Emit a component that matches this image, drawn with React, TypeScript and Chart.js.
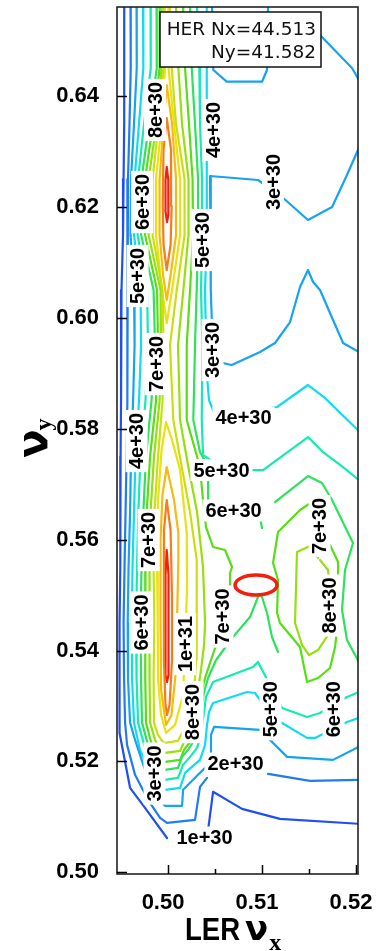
import React, { useEffect, useRef } from 'react';
import { Chart, registerables } from 'chart.js';

Chart.register(...registerables);

// ---------------- data (tune space: x = LER nu_x, y = nu_y) ----------------
const X_MIN = 0.49457;
const X_MAX = 0.52021;
const Y_MIN = 0.4997;
const Y_MAX = 0.65605;
const X_TICKS_MAJOR = [0.5, 0.51, 0.52];
const X_TICKS_MINOR = [0.505, 0.515];
const Y_TICKS = [0.5, 0.52, 0.54, 0.56, 0.58, 0.6, 0.62, 0.64];

// contour levels (x 1e30)
const LEVELS = [1, 2, 3, 4, 5, 6, 7, 8, 9, 10, 11, 12, 13];

// left flank of the ridge: x position of each level at common nu_y values
const LEFT_Y = [0.6561, 0.645, 0.635, 0.625, 0.615, 0.605, 0.595, 0.585, 0.575, 0.565, 0.555, 0.545, 0.535, 0.527];
const LEFT_X1 = [0.49534, 0.49535, 0.49532, 0.49527, 0.49521, 0.49505, 0.495, 0.495, 0.49495, 0.49495, 0.49489, 0.49484, 0.49484, 0.49484];
const LEFT_X2 = [0.49601, 0.49603, 0.4959, 0.49574, 0.49564, 0.49567, 0.49569, 0.49569, 0.49559, 0.49548, 0.49537, 0.49527, 0.49532, 0.49543];
const LEFT_X3 = [0.49665, 0.49667, 0.49638, 0.49606, 0.49601, 0.49638, 0.49644, 0.49628, 0.49606, 0.49596, 0.4958, 0.49571, 0.49574, 0.49596];
const LEFT_X4 = [0.49734, 0.49737, 0.49691, 0.49644, 0.49638, 0.49707, 0.49713, 0.49691, 0.49654, 0.49638, 0.49622, 0.49614, 0.49617, 0.49638];
const LEFT_X5 = [0.49814, 0.49816, 0.49745, 0.49681, 0.49676, 0.49777, 0.49787, 0.4976, 0.49707, 0.49684, 0.4967, 0.4966, 0.49665, 0.49681];
const LEFT_X6 = [0.49878, 0.4988, 0.49798, 0.49718, 0.49713, 0.49846, 0.49862, 0.49824, 0.49766, 0.49737, 0.49718, 0.49707, 0.49713, 0.49723];
const LEFT_X7 = [0.4991, 0.4991, 0.4984, 0.49755, 0.49755, 0.49883, 0.49894, 0.49872, 0.49809, 0.49773, 0.4976, 0.49755, 0.4976, 0.49766];
const LEFT_X8 = [0.49931, 0.49931, 0.49878, 0.49793, 0.49793, 0.4992, 0.49926, 0.4991, 0.49851, 0.49814, 0.49803, 0.49803, 0.49803, 0.49809];
const LEFT_X9 = [0.49952, 0.49952, 0.49899, 0.49835, 0.49835, 0.49941, 0.49952, 0.49941, 0.49894, 0.49856, 0.49846, 0.49854, 0.49846, 0.49851];

// continuation of each left flank below nu_y = 0.527
const TAIL_1 = [[0.49484, 0.52514], [0.49596, 0.51524], [0.49755, 0.51163], [0.49989, 0.50619]];
const TAIL_2 = [[0.49564, 0.52298], [0.49649, 0.51758], [0.49787, 0.51307], [0.49915, 0.50983], [0.49989, 0.50893], [0.50287, 0.50947], [0.5034, 0.51542], [0.50415, 0.51704]];
const TAIL_3 = [[0.49649, 0.52388], [0.49755, 0.51848], [0.49862, 0.51398], [0.49968, 0.51199], [0.50149, 0.51199], [0.5016, 0.51488], [0.50287, 0.51704], [0.50394, 0.51884], [0.50447, 0.51992], [0.50457, 0.52478], [0.5049, 0.52622], [0.50979, 0.52568], [0.51266, 0.52082], [0.51755, 0.52028], [0.5203, 0.52262]];
const TAIL_4 = [[0.49702, 0.52208], [0.49809, 0.51812], [0.49894, 0.51578], [0.49968, 0.51488], [0.50128, 0.51524], [0.50181, 0.51794], [0.50266, 0.5192], [0.5034, 0.52028], [0.50394, 0.52298], [0.50415, 0.52658], [0.50436, 0.52892], [0.50479, 0.53054], [0.5084, 0.53252], [0.50926, 0.53234], [0.51106, 0.52802], [0.51479, 0.52424], [0.51564, 0.52424], [0.51904, 0.52712], [0.5203, 0.52784]];
const TAIL_5 = [[0.49755, 0.52244], [0.49862, 0.51884], [0.49968, 0.51668], [0.50106, 0.51704], [0.5016, 0.51938], [0.50234, 0.52082], [0.50309, 0.52244], [0.50351, 0.52478], [0.50383, 0.52892], [0.50404, 0.53162], [0.50479, 0.53432], [0.50904, 0.53703], [0.50957, 0.53793], [0.51213, 0.52964], [0.51479, 0.52802], [0.51617, 0.52874], [0.51904, 0.53162], [0.5203, 0.53252]];
const TAIL_6 = [[0.49787, 0.52298], [0.49883, 0.51992], [0.49968, 0.51848], [0.50106, 0.51884], [0.50149, 0.52082], [0.50213, 0.52208], [0.50266, 0.5235], [0.50319, 0.52604], [0.50351, 0.52928], [0.50383, 0.53252], [0.50426, 0.53504], [0.50511, 0.53829], [0.50691, 0.54244], [0.50872, 0.54604], [0.50957, 0.54965]];
const TAIL_7 = [[0.49819, 0.5235], [0.49894, 0.52098], [0.49968, 0.51992], [0.50128, 0.52028], [0.5017, 0.52208], [0.50234, 0.5235], [0.50287, 0.52604], [0.50319, 0.52928], [0.50362, 0.53288], [0.50394, 0.53504], [0.50457, 0.53829], [0.50511, 0.54099], [0.50574, 0.54604], [0.5066, 0.55091], [0.5066, 0.55398], [0.50681, 0.55506], [0.50606, 0.55813], [0.50479, 0.55867], [0.50404, 0.56227], [0.50372, 0.56714], [0.5034, 0.57309], [0.50199, 0.58157], [0.50199, 0.5951], [0.50234, 0.60502], [0.50266, 0.61493], [0.50261, 0.62503], [0.50223, 0.63495], [0.50181, 0.64505], [0.5016, 0.6561]];
const TAIL_8 = [[0.49862, 0.52388], [0.49915, 0.52208], [0.49968, 0.52154], [0.50128, 0.5219], [0.5017, 0.5235], [0.50223, 0.52458], [0.50266, 0.52712], [0.50287, 0.52928], [0.50319, 0.53288], [0.50351, 0.53649], [0.50383, 0.54099], [0.50394, 0.54496], [0.50372, 0.55506], [0.50309, 0.56498], [0.50216, 0.57309], [0.50128, 0.58157], [0.50106, 0.5951], [0.50163, 0.60502], [0.50218, 0.61493], [0.50218, 0.62503], [0.50149, 0.63495], [0.5011, 0.64505], [0.50085, 0.6561]];
const TAIL_9 = [[0.49894, 0.52478], [0.49936, 0.5237], [0.49968, 0.52334], [0.50106, 0.5237], [0.50149, 0.52514], [0.50202, 0.52604], [0.50234, 0.52838], [0.50261, 0.53108], [0.50287, 0.53504], [0.50298, 0.53829], [0.50305, 0.5455], [0.50305, 0.55633], [0.50234, 0.56498], [0.50146, 0.57309], [0.50056, 0.58157], [0.50021, 0.5951], [0.50093, 0.60502], [0.50176, 0.61493], [0.50176, 0.62503], [0.50085, 0.63495], [0.50039, 0.64505], [0.50021, 0.6561]];

// other contour pieces
const LINE_1B = [[0.50426, 0.50763], [0.50479, 0.51452], [0.50787, 0.51145], [0.51191, 0.50965], [0.5203, 0.50875]];
const LINE_2B = [[0.51064, 0.51776], [0.51511, 0.5165], [0.5203, 0.51668]];
const VALLEY_3A = [[0.50468, 0.6561], [0.50482, 0.64469], [0.50624, 0.64258], [0.51, 0.64258], [0.51053, 0.64469], [0.51064, 0.6561]];
const VALLEY_3B = [[0.51596, 0.65136], [0.51957, 0.64505], [0.5203, 0.64289]];
const VALLEY_3C = [[0.5203, 0.63062], [0.51894, 0.62539], [0.51745, 0.61998], [0.51489, 0.61764], [0.51213, 0.62179], [0.50957, 0.62485], [0.50447, 0.62557], [0.50452, 0.61584], [0.50457, 0.60502], [0.50473, 0.596], [0.50532, 0.59203], [0.50678, 0.59149], [0.50979, 0.59383], [0.51138, 0.59546], [0.51298, 0.59924], [0.51404, 0.60556], [0.51489, 0.60862], [0.51543, 0.60646], [0.51617, 0.60502], [0.51862, 0.59546], [0.5203, 0.59383]];
const RIGHT_4 = [[0.50412, 0.6561], [0.50412, 0.64505], [0.50412, 0.63495], [0.50412, 0.62503], [0.50412, 0.61493], [0.50394, 0.60502], [0.50404, 0.5951], [0.50415, 0.58933], [0.50436, 0.58518], [0.505, 0.58247], [0.5116, 0.58392], [0.51489, 0.58788], [0.5167, 0.58554], [0.5203, 0.57959]];
const RIGHT_5 = [[0.50309, 0.6561], [0.50333, 0.64505], [0.5034, 0.63495], [0.50362, 0.62503], [0.50362, 0.61493], [0.50351, 0.60502], [0.50365, 0.5951], [0.50359, 0.58157], [0.50372, 0.57526], [0.50606, 0.57255], [0.51011, 0.57255], [0.51489, 0.5785], [0.51649, 0.5758], [0.51862, 0.57309], [0.5203, 0.57075]];
const RIGHT_6 = [[0.50234, 0.6561], [0.50252, 0.64505], [0.50287, 0.63495], [0.50319, 0.62503], [0.50319, 0.61493], [0.50305, 0.60502], [0.50287, 0.5951], [0.50269, 0.58157], [0.5034, 0.5758], [0.50429, 0.57309], [0.50426, 0.56714], [0.50713, 0.56498], [0.50979, 0.5639], [0.51, 0.56209]];
const HILL_6A = [[0.51138, 0.56678], [0.51489, 0.57147], [0.51638, 0.5702], [0.51745, 0.56714], [0.51968, 0.55939], [0.51883, 0.55452], [0.51851, 0.54731], [0.51904, 0.54189], [0.5203, 0.53793]];
const HILL_6B = [[0.51, 0.54965], [0.51053, 0.54676], [0.51106, 0.54244], [0.5117, 0.53973]];
const HILL_7 = [[0.51532, 0.56678], [0.51404, 0.56534], [0.5117, 0.56137], [0.51117, 0.55579], [0.5117, 0.55272], [0.5116, 0.54676], [0.51191, 0.54496], [0.51404, 0.54063], [0.51479, 0.53432], [0.51596, 0.53504], [0.51723, 0.53685], [0.51777, 0.54063], [0.51809, 0.5455], [0.51809, 0.55597], [0.51723, 0.55903], [0.5168, 0.55993]];
const HILL_8 = [[0.51596, 0.55669], [0.51511, 0.55885], [0.51372, 0.55777], [0.51351, 0.54496], [0.51426, 0.54099], [0.515, 0.53919], [0.51596, 0.54009], [0.51702, 0.5428], [0.51734, 0.54911], [0.51702, 0.55452], [0.51617, 0.55633]];
// upper peak
const UP_10 = [[0.49968, 0.6561], [0.49968, 0.64505], [0.49931, 0.63495], [0.49872, 0.62503], [0.49872, 0.61493], [0.49936, 0.60502], [0.49986, 0.59906], [0.50043, 0.60502], [0.50128, 0.61493], [0.50128, 0.62503], [0.50064, 0.63495], [0.50005, 0.64505], [0.50005, 0.6561]];
const UP_11 = [[0.49986, 0.64198], [0.49952, 0.63495], [0.4991, 0.62503], [0.4991, 0.61493], [0.49947, 0.60772], [0.49986, 0.60321], [0.50027, 0.60772], [0.50085, 0.61493], [0.50085, 0.62503], [0.50043, 0.63495], [0.49986, 0.64198]];
const UP_12 = [[0.49986, 0.63603], [0.49952, 0.63026], [0.49944, 0.62016], [0.49952, 0.61313], [0.49986, 0.60862], [0.50027, 0.61313], [0.50039, 0.62016], [0.50032, 0.63026], [0.49986, 0.63603]];
const UP_13 = [[0.49986, 0.6272], [0.50003, 0.62485], [0.50003, 0.61854], [0.49989, 0.61728], [0.49971, 0.61944], [0.49973, 0.62485], [0.49986, 0.6272]];
// lower peak
const LOW_10 = [[0.49979, 0.58121], [0.49931, 0.57616], [0.49894, 0.56714], [0.49883, 0.55633], [0.4989, 0.5455], [0.49894, 0.53468], [0.49926, 0.52838], [0.49979, 0.52514], [0.50074, 0.52658], [0.5016, 0.53198], [0.50181, 0.54153], [0.50202, 0.55091], [0.50199, 0.56119], [0.50128, 0.57255], [0.50043, 0.57796], [0.49979, 0.58121]];
const LOW_11 = [[0.49986, 0.57309], [0.49941, 0.56805], [0.4992, 0.55993], [0.4992, 0.5455], [0.49926, 0.53288], [0.49979, 0.52658], [0.50037, 0.52838], [0.50085, 0.53649], [0.50096, 0.5455], [0.5011, 0.55633], [0.5011, 0.56119], [0.50064, 0.56714], [0.49986, 0.57309]];
const LOW_12 = [[0.49986, 0.56714], [0.49957, 0.56173], [0.49955, 0.54911], [0.49957, 0.53829], [0.49973, 0.53018], [0.49989, 0.52838], [0.50016, 0.53018], [0.50043, 0.53829], [0.50043, 0.54911], [0.50027, 0.56173], [0.49986, 0.56714]];
const LOW_13 = [[0.49986, 0.55813], [0.50005, 0.55362], [0.50005, 0.53559], [0.49989, 0.53432], [0.49973, 0.53559], [0.49973, 0.55362], [0.49986, 0.55813]];

// contour labels: text, nu_x, nu_y, vertical?
const LABELS: [string, number, number, boolean][] = [
  ['8e+30', 0.49862, 0.63748, true],
  ['4e+30', 0.50484, 0.63387, true],
  ['6e+30', 0.49723, 0.62088, true],
  ['3e+30', 0.51117, 0.62449, true],
  ['5e+30', 0.50367, 0.61403, true],
  ['5e+30', 0.49676, 0.60754, true],
  ['7e+30', 0.49872, 0.59167, true],
  ['3e+30', 0.50473, 0.59419, true],
  ['4e+30', 0.49665, 0.57778, true],
  ['7e+30', 0.49793, 0.55993, true],
  ['7e+30', 0.51612, 0.56245, true],
  ['6e+30', 0.49718, 0.54505, true],
  ['1e+31', 0.50181, 0.54117, true],
  ['7e+30', 0.5058, 0.54613, true],
  ['8e+30', 0.51718, 0.54812, true],
  ['8e+30', 0.50261, 0.5289, true],
  ['5e+30', 0.5109, 0.52941, true],
  ['6e+30', 0.51761, 0.52941, true],
  ['3e+30', 0.49856, 0.51782, true],
  ['4e+30', 0.50803, 0.58202, false],
  ['5e+30', 0.50569, 0.57255, false],
  ['6e+30', 0.50697, 0.56525, false],
  ['2e+30', 0.50718, 0.51962, false],
  ['1e+30', 0.50388, 0.50628, false],
];

// working point marker
const WORKING_POINT = [0.50936, 0.55181];
const WORKING_RADII = [0.00223, 0.0018];

const LEGEND_LINES = ['HER Nx=44.513', 'Ny=41.582'];

// ---------------- style ----------------
const PALETTE = ['#1f4ff0', '#1f7cf2', '#17a3f2', '#0fdcf2', '#14eab2', '#2ee25e', '#58de16', '#96e010', '#c8e010', '#ece010', '#f6ba10', '#f67c1a', '#f22010'];

function flank(xs: number[], tail: number[][]): number[][] {
  return xs.map((x, i) => [x, LEFT_Y[i]] as number[]).concat(tail);
}

const LINES: [number, number[][]][] = [
  [1, flank(LEFT_X1, TAIL_1)],
  [1, LINE_1B],
  [2, flank(LEFT_X2, TAIL_2)],
  [2, LINE_2B],
  [3, flank(LEFT_X3, TAIL_3)],
  [3, VALLEY_3A],
  [3, VALLEY_3B],
  [3, VALLEY_3C],
  [4, flank(LEFT_X4, TAIL_4)],
  [4, RIGHT_4],
  [5, flank(LEFT_X5, TAIL_5)],
  [5, RIGHT_5],
  [6, flank(LEFT_X6, TAIL_6)],
  [6, RIGHT_6],
  [6, HILL_6A],
  [6, HILL_6B],
  [7, flank(LEFT_X7, TAIL_7)],
  [7, HILL_7],
  [8, flank(LEFT_X8, TAIL_8)],
  [8, HILL_8],
  [9, flank(LEFT_X9, TAIL_9)],
  [10, UP_10],
  [11, UP_11],
  [12, UP_12],
  [13, UP_13],
  [10, LOW_10],
  [11, LOW_11],
  [12, LOW_12],
  [13, LOW_13],
];

const overlayPlugin = {
  id: 'overlay',
  afterDatasetsDraw(chart: any) {
    const { ctx, chartArea: a, scales } = chart;
    const xs = scales.x;
    const ys = scales.y;
    ctx.save();

    // contour labels with white boxes
    ctx.font = 'bold 20px "Liberation Sans", Arial, sans-serif';
    ctx.textAlign = 'center';
    ctx.textBaseline = 'middle';
    for (const [t, lx, ly, v] of LABELS) {
      const px = xs.getPixelForValue(lx);
      const py = ys.getPixelForValue(ly);
      ctx.save();
      ctx.translate(px, py);
      if (v) ctx.rotate(-Math.PI / 2);
      const w = ctx.measureText(t).width + 6;
      ctx.fillStyle = '#ffffff';
      ctx.fillRect(-w / 2, -11, w, 22);
      ctx.fillStyle = '#000000';
      ctx.fillText(t, 0, 1);
      ctx.restore();
    }

    // working point ellipse
    const cx = xs.getPixelForValue(WORKING_POINT[0]);
    const cy = ys.getPixelForValue(WORKING_POINT[1]);
    const rx = Math.abs(xs.getPixelForValue(WORKING_POINT[0] + WORKING_RADII[0]) - cx);
    const ry = Math.abs(ys.getPixelForValue(WORKING_POINT[1] + WORKING_RADII[1]) - cy);
    ctx.beginPath();
    ctx.ellipse(cx, cy, rx, ry, 0, 0, Math.PI * 2);
    ctx.strokeStyle = '#f21e10';
    ctx.lineWidth = 3.5;
    ctx.stroke();

    // legend box
    const bx = a.left + 43;
    const by = a.top + 5;
    const bw = 161;
    const bh = 55;
    ctx.fillStyle = '#ffffff';
    ctx.fillRect(bx, by, bw, bh);
    ctx.strokeStyle = '#111';
    ctx.lineWidth = 1.5;
    ctx.strokeRect(bx, by, bw, bh);
    ctx.fillStyle = '#111';
    ctx.font = '18.5px "DejaVu Sans", sans-serif';
    ctx.textAlign = 'right';
    ctx.textBaseline = 'alphabetic';
    ctx.fillText(LEGEND_LINES[0], bx + bw - 5, by + 23);
    ctx.fillText(LEGEND_LINES[1], bx + bw - 5, by + 46);

    // frame
    ctx.strokeStyle = '#222';
    ctx.lineWidth = 1.6;
    ctx.strokeRect(a.left, a.top, a.right - a.left, a.bottom - a.top);

    // inward ticks
    ctx.strokeStyle = '#000';
    ctx.lineWidth = 1.5;
    ctx.beginPath();
    for (const v of Y_TICKS) {
      const p = Math.round(ys.getPixelForValue(v)) + 0.5;
      ctx.moveTo(a.left, p);
      ctx.lineTo(a.left + 10, p);
    }
    for (const v of X_TICKS_MAJOR) {
      const p = Math.round(xs.getPixelForValue(v)) + 0.5;
      ctx.moveTo(p, a.bottom);
      ctx.lineTo(p, a.bottom - 9);
    }
    for (const v of X_TICKS_MINOR) {
      const p = Math.round(xs.getPixelForValue(v)) + 0.5;
      ctx.moveTo(p, a.bottom);
      ctx.lineTo(p, a.bottom - 5);
    }
    ctx.stroke();
    ctx.restore();
  },
  afterDraw(chart: any) {
    const { ctx } = chart;
    ctx.save();
    ctx.fillStyle = '#000';
    ctx.textAlign = 'left';
    ctx.textBaseline = 'alphabetic';
    // x title: LER nu_x (LER slightly condensed like the original face)
    const f1 = 'bold 32px "Liberation Sans", Arial, sans-serif';
    const f2 = 'bold 34px "DejaVu Sans", sans-serif';
    const f3 = 'bold 24px "Liberation Serif", serif';
    const squeeze = 0.86;
    ctx.font = f1;
    const w1 = ctx.measureText('LER').width * squeeze;
    const sx = 185;
    ctx.save();
    ctx.translate(sx, 940);
    ctx.scale(squeeze, 1);
    ctx.fillText('LER', 0, 0);
    ctx.restore();
    ctx.font = f2;
    const w2 = ctx.measureText('\u03BD').width;
    const nx = sx + w1 + 5;
    ctx.fillText('\u03BD', nx, 940);
    ctx.font = f3;
    ctx.fillText('x', nx + w2 + 1, 950);

    // y title: nu_y (rotated)
    ctx.save();
    ctx.translate(47, 458);
    ctx.rotate(-Math.PI / 2);
    ctx.font = 'bold 42px "DejaVu Sans", sans-serif';
    const wn = ctx.measureText('\u03BD').width;
    ctx.fillText('\u03BD', 0, 0);
    ctx.font = 'bold 24px "Liberation Serif", serif';
    ctx.fillText('y', wn - 1, 4);
    ctx.restore();
    ctx.restore();
  },
};

export default function App() {
  const ref = useRef<HTMLCanvasElement>(null);
  useEffect(() => {
    if (!ref.current) return;
    const tickFont = { family: '"Liberation Sans", Arial, sans-serif', size: 22, weight: 'bold' as const };
    const chart = new Chart(ref.current, {
      type: 'scatter',
      data: {
        datasets: LINES.map(([lvl, pts]) => ({
          label: `${LEVELS[lvl - 1]}e30`,
          data: pts.map(([x, y]) => ({ x, y })),
          showLine: true,
          borderColor: PALETTE[lvl - 1],
          backgroundColor: PALETTE[lvl - 1],
          borderWidth: 2.2,
          pointRadius: 0,
          pointHoverRadius: 0,
          tension: 0,
          fill: false,
          borderJoinStyle: 'round' as const,
          borderCapStyle: 'round' as const,
        })),
      },
      options: {
        animation: false,
        responsive: false,
        devicePixelRatio: 1,
        events: [],
        layout: { padding: { top: 7, right: 18, left: 0, bottom: 0 } },
        plugins: { legend: { display: false }, tooltip: { enabled: false } },
        scales: {
          x: {
            type: 'linear',
            min: X_MIN,
            max: X_MAX,
            grid: { display: false },
            border: { display: false },
            ticks: {
              stepSize: 0.01,
              includeBounds: false,
              autoSkip: false,
              maxRotation: 0,
              padding: 8,
              labelOffset: -5,
              color: '#000',
              font: tickFont,
              callback: (v: any) => Number(v).toFixed(2),
            },
            afterFit: (s: any) => {
              s.height = 77;
              s.paddingLeft = 0;
              s.paddingRight = 0;
            },
          },
          y: {
            type: 'linear',
            min: Y_MIN,
            max: Y_MAX,
            grid: { display: false },
            border: { display: false },
            ticks: {
              stepSize: 0.02,
              includeBounds: false,
              autoSkip: false,
              padding: 10,
              color: '#000',
              font: tickFont,
              callback: (v: any) => Number(v).toFixed(2),
            },
            afterFit: (s: any) => {
              s.width = 117;
              s.paddingTop = 0;
              s.paddingBottom = 0;
            },
          },
        },
      },
      plugins: [overlayPlugin],
    });
    return () => chart.destroy();
  }, []);
  return (
    <div style={{ position: 'fixed', left: 0, top: 0, width: 376, height: 951, background: '#fff' }}>
      <canvas ref={ref} width={376} height={951} style={{ display: 'block', width: 376, height: 951 }} />
    </div>
  );
}
